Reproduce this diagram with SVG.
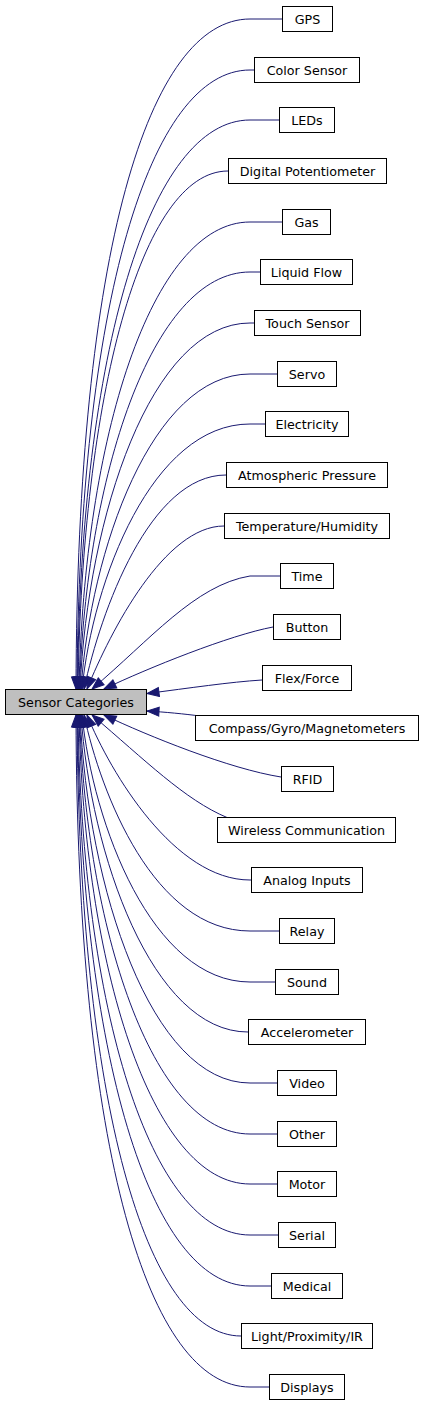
<svg xmlns="http://www.w3.org/2000/svg" width="424" height="1405" viewBox="0 0 424 1405">
<style>
.n rect{fill:#fff;stroke:#000;stroke-width:1}
.n text{font-family:"DejaVu Sans",Verdana,sans-serif;font-size:12.7px;text-anchor:middle;fill:#000}
#root rect{fill:#bfbfbf}
.e path{fill:none;stroke:#191970;stroke-width:1;marker-start:url(#ah)}
</style>
<defs>
<marker id="ah" markerUnits="userSpaceOnUse" viewBox="0 -5 12 10" markerWidth="12" markerHeight="10" refX="12" refY="0" orient="auto-start-reverse" overflow="visible">
<path d="M0,-4.5 L12,0 L0,4.5 Z" fill="#191970" stroke="#191970" stroke-width="1"/>
</marker>
</defs>
<rect width="424" height="1405" fill="#fff"/>
<g class="e">
<path d="M76,689 C77,250 149,19 250,19 L282,19"/>
<path d="M77,689 C79,302 150,70 250,70 L254,70"/>
<path d="M77.5,689 C80.5,351 150,120 250,120 L279,120"/>
<path d="M78,689 C82,397 141,171 228,171"/>
<path d="M79,689 C84,440 151,222 250,222 L282,222"/>
<path d="M79.5,689 C86,480 151,272 250,272 L260,272"/>
<path d="M80,689 C88,516 151,323 250,323 L254,323"/>
<path d="M81,689 C90.5,550 152,374 250,374 L277,374"/>
<path d="M82,689 C93,580 152,424 250,424 L265,424"/>
<path d="M84,689 C101,610 150,475 226,475"/>
<path d="M87,689 C111,630 165,526 224,526"/>
<path d="M92,689 C150,640 195,585 250,576 L280,576"/>
<path d="M104,689 C148,668 230,635 273,627"/>
<path d="M147,693.5 C190,688 230,682 262,680"/>
<path d="M147,711 C165,712 185,714 200,716"/>
<path d="M104,715 C148,736 230,769 281,777"/>
<path d="M92,715 C145,760 185,800 227,817.5"/>
<path d="M87,715 C111,774 175,880 250,880 L251,880"/>
<path d="M84,715 C101,794 154,931 250,931 L279,931"/>
<path d="M82,715 C93,824 152,982 250,982 L275,982"/>
<path d="M81,715 C90.5,854 152,1032 248,1032"/>
<path d="M80,715 C88,888 151,1083 250,1083 L277,1083"/>
<path d="M79.5,715 C86,924 151,1134 250,1134 L277,1134"/>
<path d="M79,715 C84,964 151,1184 250,1184 L277,1184"/>
<path d="M78,715 C82,1007 150,1235 250,1235 L278,1235"/>
<path d="M77.5,715 C80.5,1053 150,1286 250,1286 L271,1286"/>
<path d="M77,715 C79,1102 146,1336 241,1336"/>
<path d="M76,715 C77,1154 149,1387 250,1387 L269,1387"/>
</g>
<g id="root" class="n"><rect x="5.5" y="689.5" width="141" height="25"/><text x="76" y="706.5">Sensor Categories</text></g>
<g id="n1" class="n"><rect x="282.5" y="6.5" width="50" height="25"/><text x="307.5" y="23.5">GPS</text></g>
<g id="n2" class="n"><rect x="254.5" y="57.5" width="105" height="25"/><text x="307" y="74.5">Color Sensor</text></g>
<g id="n3" class="n"><rect x="279.5" y="107.5" width="55" height="25"/><text x="307" y="124.5">LEDs</text></g>
<g id="n4" class="n"><rect x="228.5" y="158.5" width="158" height="25"/><text x="307.5" y="175.5">Digital Potentiometer</text></g>
<g id="n5" class="n"><rect x="282.5" y="209.5" width="48" height="25"/><text x="306.5" y="226.5">Gas</text></g>
<g id="n6" class="n"><rect x="260.5" y="259.5" width="92" height="25"/><text x="306.5" y="276.5">Liquid Flow</text></g>
<g id="n7" class="n"><rect x="254.5" y="310.5" width="106" height="25"/><text x="307.5" y="327.5">Touch Sensor</text></g>
<g id="n8" class="n"><rect x="277.5" y="361.5" width="59" height="25"/><text x="307" y="378.5">Servo</text></g>
<g id="n9" class="n"><rect x="265.5" y="411.5" width="83" height="25"/><text x="307" y="428.5">Electricity</text></g>
<g id="n10" class="n"><rect x="226.5" y="462.5" width="161" height="25"/><text x="307" y="479.5">Atmospheric Pressure</text></g>
<g id="n11" class="n"><rect x="224.5" y="513.5" width="165" height="25"/><text x="307" y="530.5">Temperature/Humidity</text></g>
<g id="n12" class="n"><rect x="280.5" y="563.5" width="53" height="25"/><text x="307" y="580.5">Time</text></g>
<g id="n13" class="n"><rect x="273.5" y="614.5" width="67" height="25"/><text x="307" y="631.5">Button</text></g>
<g id="n14" class="n"><rect x="262.5" y="665.5" width="89" height="25"/><text x="307" y="682.5">Flex/Force</text></g>
<g id="n15" class="n"><rect x="195.5" y="715.5" width="223" height="25"/><text x="307" y="732.5">Compass/Gyro/Magnetometers</text></g>
<g id="n16" class="n"><rect x="281.5" y="766.5" width="52" height="25"/><text x="307.5" y="783.5">RFID</text></g>
<g id="n17" class="n"><rect x="217.5" y="817.5" width="178" height="25"/><text x="306.5" y="834.5">Wireless Communication</text></g>
<g id="n18" class="n"><rect x="251.5" y="867.5" width="111" height="25"/><text x="307" y="884.5">Analog Inputs</text></g>
<g id="n19" class="n"><rect x="279.5" y="918.5" width="55" height="25"/><text x="307" y="935.5">Relay</text></g>
<g id="n20" class="n"><rect x="275.5" y="969.5" width="63" height="25"/><text x="307" y="986.5">Sound</text></g>
<g id="n21" class="n"><rect x="248.5" y="1019.5" width="117" height="25"/><text x="307" y="1036.5">Accelerometer</text></g>
<g id="n22" class="n"><rect x="277.5" y="1070.5" width="59" height="25"/><text x="307" y="1087.5">Video</text></g>
<g id="n23" class="n"><rect x="277.5" y="1121.5" width="59" height="25"/><text x="307" y="1138.5">Other</text></g>
<g id="n24" class="n"><rect x="277.5" y="1171.5" width="59" height="25"/><text x="307" y="1188.5">Motor</text></g>
<g id="n25" class="n"><rect x="278.5" y="1222.5" width="57" height="25"/><text x="307" y="1239.5">Serial</text></g>
<g id="n26" class="n"><rect x="271.5" y="1273.5" width="71" height="25"/><text x="307" y="1290.5">Medical</text></g>
<g id="n27" class="n"><rect x="241.5" y="1323.5" width="131" height="25"/><text x="307" y="1340.5">Light/Proximity/IR</text></g>
<g id="n28" class="n"><rect x="269.5" y="1374.5" width="75" height="25"/><text x="307" y="1391.5">Displays</text></g>
</svg>
